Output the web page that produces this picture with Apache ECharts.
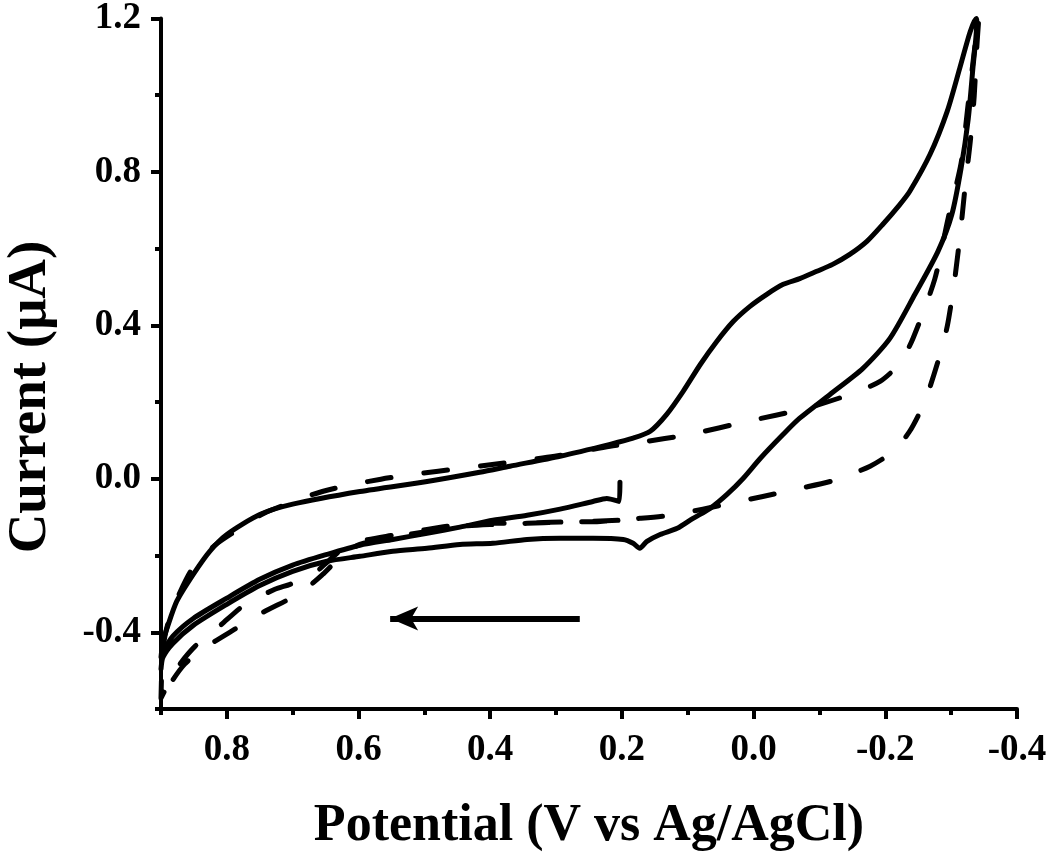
<!DOCTYPE html>
<html>
<head>
<meta charset="utf-8">
<script src="https://cdn.jsdelivr.net/npm/echarts@6/dist/echarts.min.js"></script>
<style>html,body{margin:0;padding:0;background:#fff}#c{width:1050px;height:859px}</style>
</head>
<body>
<div id="c"></div>
<script>
// ---- data (potential V vs Ag/AgCl, current µA) ----
const xMajorTicks = [-0.4, -0.2, 0.0, 0.2, 0.4, 0.6, 0.8];
const xMinorTicks = [-0.3, -0.1, 0.1, 0.3, 0.5, 0.7, 0.9];
const yMajorTicks = [-0.4, 0.0, 0.4, 0.8, 1.2];
const yMinorTicks = [-0.6, -0.2, 0.2, 0.6, 1.0];

// solid curve: start at 0.2 V scanning positive, then negative sweep, then return
const solidStart = [[0.203,-0.009],[0.204,-0.059],[0.223,-0.051],[0.244,-0.059],[0.294,-0.079],[0.344,-0.095],[0.396,-0.108],[0.446,-0.126],[0.496,-0.142],[0.548,-0.158],[0.598,-0.173],[0.648,-0.197],[0.700,-0.225],[0.750,-0.262],[0.800,-0.311],[0.851,-0.364],[0.882,-0.410],[0.897,-0.450],[0.900,-0.465]];
const solidUpper = [[0.897,-0.424],[0.891,-0.390],[0.876,-0.319],[0.851,-0.249],[0.826,-0.189],[0.800,-0.145],[0.750,-0.093],[0.700,-0.066],[0.598,-0.033],[0.496,-0.007],[0.416,0.017],[0.370,0.033],[0.294,0.059],[0.218,0.090],[0.183,0.106],[0.157,0.124],[0.132,0.168],[0.107,0.228],[0.081,0.298],[0.056,0.358],[0.031,0.410],[0.006,0.449],[-0.020,0.481],[-0.045,0.507],[-0.070,0.522],[-0.096,0.541],[-0.120,0.559],[-0.146,0.585],[-0.172,0.619],[-0.196,0.663],[-0.222,0.715],[-0.237,0.749],[-0.268,0.846],[-0.294,0.958],[-0.313,1.070],[-0.329,1.166],[-0.338,1.2]];
const solidReturn = [[-0.339,1.192],[-0.333,1.070],[-0.326,0.939],[-0.315,0.809],[-0.301,0.689],[-0.280,0.593],[-0.245,0.481],[-0.207,0.366],[-0.166,0.288],[-0.116,0.220],[-0.070,0.158],[-0.045,0.116],[-0.010,0.053],[0.016,0.001],[0.040,-0.040],[0.066,-0.077],[0.092,-0.103],[0.116,-0.129],[0.142,-0.145],[0.162,-0.163],[0.173,-0.181],[0.183,-0.168],[0.198,-0.158],[0.244,-0.155],[0.294,-0.155],[0.344,-0.158],[0.396,-0.168],[0.446,-0.171],[0.496,-0.181],[0.548,-0.189],[0.598,-0.202],[0.648,-0.215],[0.700,-0.241],[0.750,-0.278],[0.800,-0.327],[0.851,-0.382],[0.882,-0.429],[0.897,-0.465],[0.900,-0.496]];

// dashed curve
const dashStart = [[0.206,-0.108],[0.256,-0.111],[0.309,-0.113],[0.362,-0.116],[0.408,-0.116],[0.446,-0.119],[0.496,-0.132],[0.548,-0.147],[0.598,-0.163],[0.622,-0.180],[0.645,-0.213],[0.670,-0.250],[0.704,-0.275],[0.727,-0.288],[0.772,-0.327],[0.810,-0.382],[0.848,-0.436],[0.874,-0.489],[0.891,-0.541],[0.900,-0.572]];
const dashUpper = [[0.898,-0.463],[0.894,-0.410],[0.886,-0.356],[0.874,-0.306],[0.853,-0.236],[0.818,-0.173],[0.780,-0.129],[0.744,-0.090],[0.655,-0.033],[0.566,-0.001],[0.479,0.020],[0.385,0.040],[0.302,0.059],[0.218,0.085],[0.173,0.095],[0.097,0.116],[0.009,0.150],[-0.080,0.184],[-0.146,0.220],[-0.192,0.254],[-0.222,0.301],[-0.242,0.366],[-0.275,0.520],[-0.295,0.676],[-0.315,0.822],[-0.325,0.965],[-0.336,1.127],[-0.342,1.2]];
const dashReturn = [[-0.339,1.127],[-0.335,0.997],[-0.329,0.879],[-0.322,0.775],[-0.315,0.658],[-0.306,0.528],[-0.294,0.397],[-0.280,0.306],[-0.260,0.202],[-0.237,0.124],[-0.212,0.072],[-0.177,0.033],[-0.122,-0.004],[-0.070,-0.025],[-0.014,-0.046],[0.036,-0.064],[0.077,-0.079],[0.127,-0.095],[0.173,-0.103],[0.233,-0.111],[0.294,-0.113],[0.344,-0.116],[0.396,-0.119],[0.446,-0.124],[0.496,-0.137],[0.548,-0.152],[0.598,-0.171],[0.625,-0.200],[0.655,-0.250],[0.689,-0.298],[0.745,-0.348],[0.788,-0.392],[0.832,-0.439],[0.864,-0.483],[0.886,-0.535],[0.898,-0.580]];

// scan direction arrow
const arrowFrom = [0.264, -0.364];
const arrowTo = [0.552, -0.364];

const solidData = solidStart.concat(solidUpper, solidReturn);
const dashData = dashStart.concat(dashUpper, dashReturn);

const FONT = '"Liberation Serif", "Times New Roman", serif';
const fmt = v => (Math.abs(v) < 1e-9 ? 0 : v).toFixed(1);

const chart = echarts.init(document.getElementById('c'), null, {renderer: 'canvas'});
chart.setOption({
  animation: false,
  backgroundColor: '#ffffff',
  grid: {left: 161, right: 33, top: 17, bottom: 150, containLabel: false},
  xAxis: [{
    type: 'value', min: -0.4, max: 0.9, inverse: true, position: 'bottom',
    axisLine: {show: true, onZero: false, lineStyle: {color: '#000', width: 4}},
    axisTick: {show: true, inside: false, length: 10, lineStyle: {color: '#000', width: 4}, customValues: xMajorTicks},
    axisLabel: {show: true, margin: 23, color: '#000', fontFamily: FONT, fontWeight: 'bold', fontSize: 37, customValues: xMajorTicks, formatter: fmt},
    splitLine: {show: false},
    name: 'Potential (V vs Ag/AgCl)', nameLocation: 'middle', nameGap: 92,
    nameTextStyle: {color: '#000', fontFamily: FONT, fontWeight: 'bold', fontSize: 52}
  }, {
    type: 'value', min: -0.4, max: 0.9, inverse: true, position: 'bottom',
    axisLine: {show: false, onZero: false},
    axisTick: {show: true, inside: false, length: 6, lineStyle: {color: '#000', width: 4}, customValues: xMinorTicks},
    axisLabel: {show: false}, splitLine: {show: false}
  }],
  yAxis: [{
    type: 'value', min: -0.6, max: 1.2, position: 'left',
    axisLine: {show: true, onZero: false, lineStyle: {color: '#000', width: 4}},
    axisTick: {show: true, inside: false, length: 10, lineStyle: {color: '#000', width: 4}, customValues: yMajorTicks},
    axisLabel: {show: true, margin: 20, color: '#000', fontFamily: FONT, fontWeight: 'bold', fontSize: 37, customValues: yMajorTicks, formatter: fmt},
    splitLine: {show: false}
  }, {
    type: 'value', min: -0.6, max: 1.2, position: 'left',
    axisLine: {show: false, onZero: false},
    axisTick: {show: true, inside: false, length: 6, lineStyle: {color: '#000', width: 4}, customValues: yMinorTicks},
    axisLabel: {show: false}, splitLine: {show: false}
  }],
  graphic: [{
    type: 'text', x: 31, y: 397, rotation: Math.PI / 2,
    style: {text: 'Current (μA)', fill: '#000', font: 'bold 55px ' + FONT, align: 'center', verticalAlign: 'middle'}
  }],
  series: [{
    type: 'line', xAxisIndex: 0, yAxisIndex: 0, data: solidData,
    showSymbol: false, symbol: 'none', smooth: 0.25,
    lineStyle: {color: '#000', width: 5, type: 'solid', cap: 'round', join: 'round'},
    markLine: {
      silent: true, symbol: ['none', 'arrow'], symbolSize: [18, 28],
      label: {show: false},
      lineStyle: {color: '#000', width: 6, type: 'solid'},
      data: [[{coord: arrowFrom}, {coord: arrowTo}]]
    }
  }, {
    type: 'line', xAxisIndex: 0, yAxisIndex: 0, data: dashData,
    showSymbol: false, symbol: 'none', smooth: 0.25,
    lineStyle: {color: '#000', width: 5, type: [24, 33], cap: 'round', join: 'round'}
  }]
});
</script>
</body>
</html>
